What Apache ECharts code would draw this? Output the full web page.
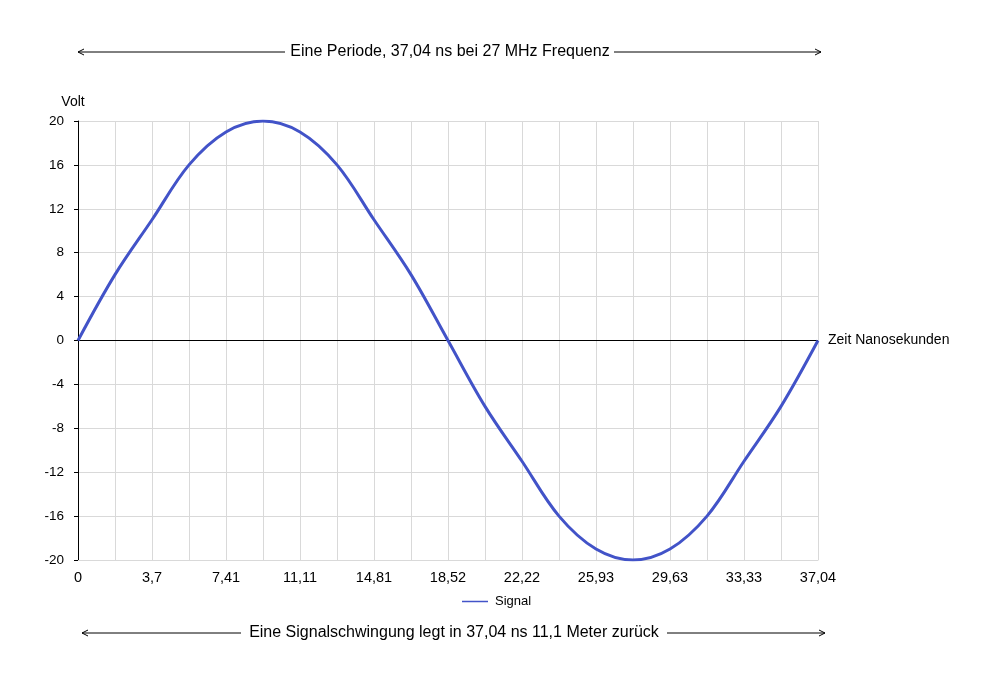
<!DOCTYPE html>
<html>
<head>
<meta charset="utf-8">
<script src="https://cdn.jsdelivr.net/npm/echarts@6/dist/echarts.min.js"></script>
<style>
  html, body { margin: 0; padding: 0; background: #fff; }
  #chart { width: 997px; height: 684px; }
</style>
</head>
<body>
<div id="chart"></div>
<script>
// Zeitachse (ns), Beschriftung mit Komma
var zeit = ['0','1,85','3,7','5,56','7,41','9,26','11,11','12,96','14,81','16,67','18,52',
            '20,37','22,22','24,07','25,93','27,78','29,63','31,48','33,33','35,19','37,04'];
// Signal in Volt
var signal = [0, 6, 11, 16, 19, 20, 19, 16, 11, 6, 0, -6, -11, -16, -19, -20, -19, -16, -11, -6, 0];
var titelOben = 'Eine Periode, 37,04 ns bei 27 MHz Frequenz';
var titelUnten = 'Eine Signalschwingung legt in 37,04 ns 11,1 Meter zurück';

var font = 'Liberation Sans, Arial, sans-serif';
var myChart = echarts.init(document.getElementById('chart'));

// Pfeil-Linie mit offener Spitze
function pfeil(x1, x2, y, richtung) {
    var tip = richtung < 0 ? x1 : x2;
    var d = richtung < 0 ? 6 : -6;
    return [
        { type: 'line', shape: { x1: x1, y1: y, x2: x2, y2: y }, style: { stroke: '#000', lineWidth: 1 } },
        { type: 'polyline', shape: { points: [[tip + d, y - 3], [tip, y], [tip + d, y + 3]] },
          style: { stroke: '#000', lineWidth: 1, fill: null } }
    ];
}

function text(t, x, y) {
    return { type: 'text', x: x, y: y,
             style: { text: t, font: '16px ' + font, fill: '#000', textAlign: 'center', textVerticalAlign: 'middle' } };
}

var grafik = [text(titelOben, 450, 52), text(titelUnten, 454, 633)];
grafik = grafik.concat(pfeil(78, 285, 52, -1), pfeil(614, 821, 52, 1),
                       pfeil(82, 241, 633, -1), pfeil(667, 825, 633, 1));

option = {
    backgroundColor: '#fff',
    textStyle: { fontFamily: font },
    animation: false,
    grid: { left: 78, right: 179, top: 121, bottom: 124, containLabel: false },
    legend: {
        bottom: 71,
        left: 457,
        icon: 'rect',
        itemWidth: 26,
        itemHeight: 1.5,
        itemGap: 10,
        textStyle: { fontSize: 13, color: '#000', fontFamily: font, padding: [0, 0, 0, 2] },
        data: ['Signal']
    },
    xAxis: {
        type: 'category',
        boundaryGap: false,
        data: zeit,
        axisLine: { onZero: false, lineStyle: { color: '#d9d9d9' } },
        axisTick: { show: false },
        axisLabel: { interval: 1, color: '#000', fontSize: 14.5, margin: 10, fontFamily: font },
        splitLine: { show: true, interval: 0, lineStyle: { color: '#d9d9d9' } }
    },
    yAxis: {
        type: 'value',
        min: -20,
        max: 20,
        interval: 4,
        name: 'Volt',
        nameLocation: 'end',
        nameGap: 12,
        nameTextStyle: { color: '#000', fontSize: 14, fontFamily: font, align: 'center', padding: [0, 10, 0, 0] },
        axisLine: { show: true, lineStyle: { color: '#000' } },
        axisTick: { show: true, length: 4, lineStyle: { color: '#000' } },
        axisLabel: { color: '#000', fontSize: 13.5, margin: 14, fontFamily: font },
        splitLine: { show: true, lineStyle: { color: '#d9d9d9' } }
    },
    series: [
        {
            name: 'Signal',
            type: 'line',
            data: signal,
            smooth: 0.35,
            symbol: 'none',
            itemStyle: { color: '#4253c8' },
            lineStyle: { color: '#4253c8', width: 3 },
            markLine: {
                silent: true,
                symbol: 'none',
                lineStyle: { color: '#000', type: 'solid', width: 1 },
                label: { position: 'end', formatter: 'Zeit Nanosekunden', color: '#000', fontSize: 14, distance: 10, fontFamily: font },
                data: [{ yAxis: 0 }],
                z: 1
            },
            z: 3
        }
    ],
    graphic: grafik
};

myChart.setOption(option);
</script>
</body>
</html>
